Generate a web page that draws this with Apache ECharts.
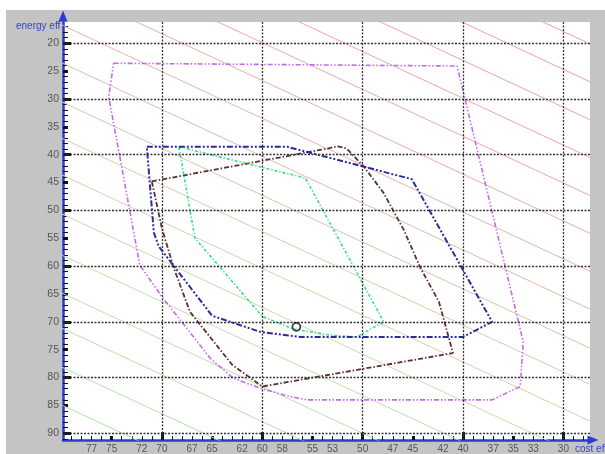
<!DOCTYPE html>
<html>
<head>
<meta charset="utf-8">
<script src="https://cdn.jsdelivr.net/npm/echarts@6/dist/echarts.min.js"></script>
<style>
  html, body { margin: 0; padding: 0; background: #ffffff; }
  #chart { width: 605px; height: 454px; }
</style>
</head>
<body>
<div id="chart"></div>
<script>
// Axis ranges (cost eff runs right-to-left, energy eff top-to-bottom)
const costMin = 27.35, costMax = 79.85;
const energyMin = 16.2, energyMax = 91.2;

// Tick label values
const costLabels = [77, 75, 72, 70, 67, 65, 62, 60, 58, 55, 53, 50, 47, 45, 42, 40, 37, 35, 33, 30];
const energyLabels = [20, 25, 30, 35, 40, 45, 50, 55, 60, 65, 70, 75, 80, 85, 90];
const costMinorTicks = [28,29,30,31,32,33,34,35,36,37,38,39,40,41,42,43,44,45,46,47,48,49,50,51,52,53,54,55,56,57,58,59,60,61,62,63,64,65,66,67,68,69,70,71,72,73,74,75,76,77,78,79];
const energyMinorTicks = [17,18,19,20,21,22,23,24,25,26,27,28,29,30,31,32,33,34,35,36,37,38,39,40,41,42,43,44,45,46,47,48,49,50,51,52,53,54,55,56,57,58,59,60,61,62,63,64,65,66,67,68,69,70,71,72,73,74,75,76,77,78,79,80,81,82,83,84,85,86,87,88,89,90,91];
const costMidTicks = [35, 45, 55, 65, 75];
const costMajorTicks = [30, 40, 50, 60, 70];
const energyMidTicks = [25, 35, 45, 55, 65, 75, 85];
const energyMajorTicks = [20, 30, 40, 50, 60, 70, 80, 90];

// Iso-lines: energy value where each line meets cost = 80, and their common slope
const isoAt80 = [84.9, 78.1, 71.1, 64.8, 58.0, 50.6, 43.6, 37.0, 30.5, 23.5, 16.7, 9.9, 3.1, -3.7, -10.5, -17.3, -24.1];
const isoSlope = 0.84;
const isoColors = ['#ade6a6', '#b0e5a8', '#b5e3aa', '#bde0ad', '#c6dcaf', '#cfd6b0', '#d7cfb0', '#dcc8ae', '#dfc0ab', '#e2baa8', '#e5b4a6', '#e8afa5', '#eaaaa4', '#eca6a3', '#eea3a3', '#efa1a1', '#f0a0a0'];

// Region outlines as [cost, energy] pairs
const outerRegion = [[74.8,23.6],[40.6,24.1],[40.0,28.5],[34.0,73.6],[34.3,81.6],[37.1,84.0],[55.5,84.0],[57.5,83.3],[60.2,81.9],[62.9,80.1],[65.2,76.5],[67.5,71.2],[70.0,65.5],[72.2,59.8],[75.3,29.6],[74.8,23.6]];
const blueRegion = [[71.5,38.6],[57.5,38.6],[45.1,44.4],[37.1,70.0],[40.0,72.7],[56.2,72.7],[60.2,71.8],[65.0,68.9],[70.3,56.5],[70.8,54.0],[71.5,38.6]];
const greenRegion = [[68.3,38.6],[55.7,44.2],[47.9,70.0],[50.6,72.7],[53.2,72.4],[56.9,71.3],[60.0,69.0],[66.7,55.0],[68.3,38.6]];
const brownRegion = [[71.0,44.8],[53.5,38.9],[52.5,38.5],[51.6,38.9],[49.9,42.1],[47.9,46.9],[45.9,53.5],[44.3,60.1],[42.4,66.4],[41.0,75.6],[60.0,81.6],[63.0,77.7],[67.2,68.2],[68.8,60.4],[70.0,53.2],[71.0,44.8]];
const currentPoint = [[56.6, 70.9]];

const gridRect = { left: 63, right: 15, top: 22, bottom: 14 };
const axisBlue = '#2a3bd6';
const labelGray = '#555555';
const fontFam = 'Liberation Sans, Arial, sans-serif';

function costAxis(gridIndex, extra) {
  return Object.assign({
    type: 'value', gridIndex: gridIndex, inverse: true, min: costMin, max: costMax,
    position: 'bottom',
    axisLine: { show: false },
    axisLabel: { show: false },
    splitLine: { show: false },
    axisTick: { show: false }
  }, extra);
}
function energyAxis(gridIndex, extra) {
  return Object.assign({
    type: 'value', gridIndex: gridIndex, inverse: true, min: energyMin, max: energyMax,
    position: 'left',
    axisLine: { show: false },
    axisLabel: { show: false },
    splitLine: { show: false },
    axisTick: { show: false }
  }, extra);
}

const series = [];

// background iso-lines
isoAt80.forEach(function (e0, i) {
  series.push({
    type: 'line', xAxisIndex: 0, yAxisIndex: 0, z: 1, silent: true,
    symbol: 'none', clip: true,
    lineStyle: { color: isoColors[i], width: 1 },
    data: [[80, e0], [27, e0 + isoSlope * (80 - 27)]]
  });
});

// dashed reference grid
series.push({
  type: 'line', xAxisIndex: 0, yAxisIndex: 0, z: 2, silent: true, data: [],
  markLine: {
    silent: true, symbol: ['none', 'none'], label: { show: false },
    lineStyle: { color: '#333333', width: 1.3, type: [2, 1.5] },
    emphasis: { disabled: true },
    data: costMajorTicks.map(function (v) { return { xAxis: v }; })
      .concat(energyMajorTicks.map(function (v) { return { yAxis: v }; }))
  }
});

function regionSeries(name, pts, color, width, dash) {
  return {
    name: name, type: 'line', xAxisIndex: 0, yAxisIndex: 0, z: 3, silent: true,
    symbol: 'none', data: pts,
    lineStyle: { color: color, width: width, type: dash }
  };
}
series.push(regionSeries('outer', outerRegion, '#c968ef', 1.6, [5, 2, 1.5, 2, 1.5, 2]));
series.push(regionSeries('brown', brownRegion, '#5c3030', 1.8, [5, 2, 1.5, 2]));
series.push(regionSeries('green', greenRegion, '#2fe282', 1.6, [3, 2, 1.2, 2]));
series.push(regionSeries('blue', blueRegion, '#2b2ba0', 2, [6, 2, 2, 2, 2, 2]));

series.push({
  type: 'scatter', xAxisIndex: 0, yAxisIndex: 0, z: 5, silent: true,
  symbol: 'circle', symbolSize: 8,
  itemStyle: { color: 'rgba(255,255,255,0)', borderColor: '#111', borderWidth: 1.8 },
  data: currentPoint
});

const chart = echarts.init(document.getElementById('chart'), null, { renderer: 'canvas' });
chart.setOption({
  animation: false,
  backgroundColor: '#ffffff',
  graphic: [
    { type: 'rect', z: -100, silent: true, shape: { x: 6, y: 10, width: 599, height: 444 }, style: { fill: '#c4c4c4' } },
    { type: 'text', z: 100, silent: true, left: 16, top: 21,
      style: { text: 'energy eff', fill: '#3344cc', font: '10px ' + fontFam } },
    { type: 'text', z: 100, silent: true, left: 575, top: 444,
      style: { text: 'cost eff', fill: '#3344cc', font: '10px ' + fontFam } }
  ],
  grid: [
    Object.assign({ show: true, backgroundColor: '#ffffff', borderWidth: 0, containLabel: false, outerBoundsMode: 'none' }, gridRect),
    Object.assign({ show: false, containLabel: false, outerBoundsMode: 'none' }, gridRect),
    Object.assign({ show: false, containLabel: false, outerBoundsMode: 'none' }, gridRect)
  ],
  xAxis: [
    costAxis(0, {
      axisLine: { show: true, lineStyle: { color: axisBlue, width: 2.5 },
        symbol: ['none', 'triangle'], symbolSize: [9, 11], symbolOffset: [0, 3] },
      axisTick: { show: true, inside: true, length: 4, customValues: costMinorTicks,
        lineStyle: { color: '#111', width: 1 } },
      axisLabel: { show: true, customValues: costLabels, color: labelGray, fontSize: 10,
        fontFamily: fontFam, margin: 4, formatter: function (v) { return String(v); } }
    }),
    costAxis(1, { axisTick: { show: true, inside: true, length: 4, customValues: costMidTicks,
        lineStyle: { color: '#111', width: 3 } } }),
    costAxis(2, { axisTick: { show: true, inside: true, length: 8, customValues: costMajorTicks,
        lineStyle: { color: '#111', width: 3 } } })
  ],
  yAxis: [
    energyAxis(0, {
      axisLine: { show: true, lineStyle: { color: axisBlue, width: 2.5 },
        symbol: ['none', 'triangle'], symbolSize: [9, 11], symbolOffset: [0, 6] },
      axisTick: { show: true, inside: true, length: 5, customValues: energyMinorTicks,
        lineStyle: { color: '#111', width: 1 } },
      axisLabel: { show: true, customValues: energyLabels, color: labelGray, fontSize: 10.5,
        fontFamily: fontFam, margin: 4, formatter: function (v) { return String(v); } }
    }),
    energyAxis(1, { axisTick: { show: true, inside: true, length: 5, customValues: energyMidTicks,
        lineStyle: { color: '#111', width: 3 } } }),
    energyAxis(2, { axisTick: { show: true, inside: true, length: 8, customValues: energyMajorTicks,
        lineStyle: { color: '#111', width: 3 } } })
  ],
  series: series
});
</script>
</body>
</html>
